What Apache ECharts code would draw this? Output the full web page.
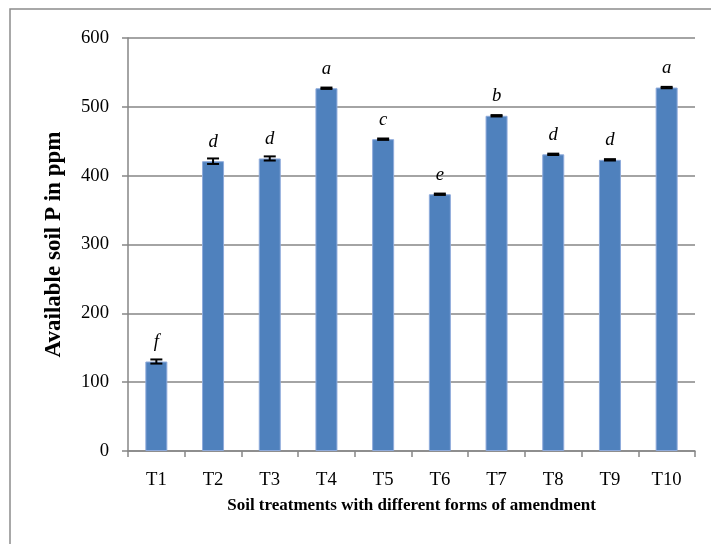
<!DOCTYPE html>
<html>
<head>
<meta charset="utf-8">
<script src="https://cdn.jsdelivr.net/npm/echarts@6/dist/echarts.min.js"></script>
<style>
html,body{margin:0;padding:0;background:#fff;}
#chart{width:711px;height:544px;}
</style>
</head>
<body>
<div id="chart"></div>
<script>
var categories = ['T1','T2','T3','T4','T5','T6','T7','T8','T9','T10'];
var values = [130, 421, 425, 527, 453, 373, 487, 431, 423, 528];
var errors = [3, 4, 3, 1, 1, 1, 1, 1, 1, 1];
var letters = ['f','d','d','a','c','e','b','d','d','a'];
var yTicks = [0, 100, 200, 300, 400, 500, 600];

var FONT = '"Liberation Serif","Times New Roman",serif';
var chart = echarts.init(document.getElementById('chart'));

var errData = values.map(function(v, i){ return [i, v - errors[i], v + errors[i]]; });

var option = {
  animation: false,
  backgroundColor: '#fff',
  graphic: [{
    type: 'rect',
    shape: {x: 10, y: 9, width: 720, height: 560},
    style: {fill: 'none', stroke: '#8c8c8c', lineWidth: 1.5},
    silent: true
  }],
  grid: {left: 128, right: 16, top: 38, bottom: 93},
  xAxis: {
    type: 'category',
    data: categories,
    axisLine: {lineStyle: {color: '#868686', width: 1.5}},
    axisTick: {show: true, length: 6, lineStyle: {color: '#868686', width: 1.5}},
    axisLabel: {color: '#000', fontFamily: FONT, fontSize: 18.7, margin: 20},
    name: 'Soil treatments with different forms of amendment',
    nameLocation: 'middle',
    nameGap: 46,
    nameTextStyle: {color: '#000', fontFamily: FONT, fontSize: 17, fontWeight: 'bold'}
  },
  yAxis: {
    type: 'value',
    min: yTicks[0],
    max: yTicks[yTicks.length - 1],
    interval: 100,
    axisLine: {show: true, lineStyle: {color: '#868686', width: 1.5}},
    axisTick: {show: true, length: 6, lineStyle: {color: '#868686', width: 1.5}},
    splitLine: {show: true, lineStyle: {color: '#868686', width: 1.5}},
    axisLabel: {color: '#000', fontFamily: FONT, fontSize: 18.7, margin: 19},
    name: 'Available soil P in ppm',
    nameLocation: 'middle',
    nameGap: 62,
    nameTextStyle: {color: '#000', fontFamily: FONT, fontSize: 23, fontWeight: 'bold'}
  },
  series: [{
    type: 'bar',
    data: values,
    barWidth: 22,
    itemStyle: {color: '#4F81BD', borderColor: '#8EAADB', borderWidth: 1},
    label: {
      show: true,
      position: 'top',
      distance: 10,
      formatter: function(p){ return letters[p.dataIndex]; },
      fontFamily: FONT,
      fontStyle: 'italic',
      fontSize: 18.7,
      color: '#000'
    },
    z: 2
  }, {
    type: 'custom',
    data: errData,
    z: 5,
    renderItem: function(params, api){
      var x = api.value(0);
      var lo = api.coord([x, api.value(1)]);
      var hi = api.coord([x, api.value(2)]);
      var hw = 6;
      var style = {stroke: '#000', lineWidth: 2};
      return {
        type: 'group',
        children: [
          {type: 'line', shape: {x1: lo[0], y1: lo[1], x2: hi[0], y2: hi[1]}, style: style},
          {type: 'line', shape: {x1: hi[0]-hw, y1: hi[1], x2: hi[0]+hw, y2: hi[1]}, style: style},
          {type: 'line', shape: {x1: lo[0]-hw, y1: lo[1], x2: lo[0]+hw, y2: lo[1]}, style: style}
        ]
      };
    }
  }]
};
chart.setOption(option);
</script>
</body>
</html>
